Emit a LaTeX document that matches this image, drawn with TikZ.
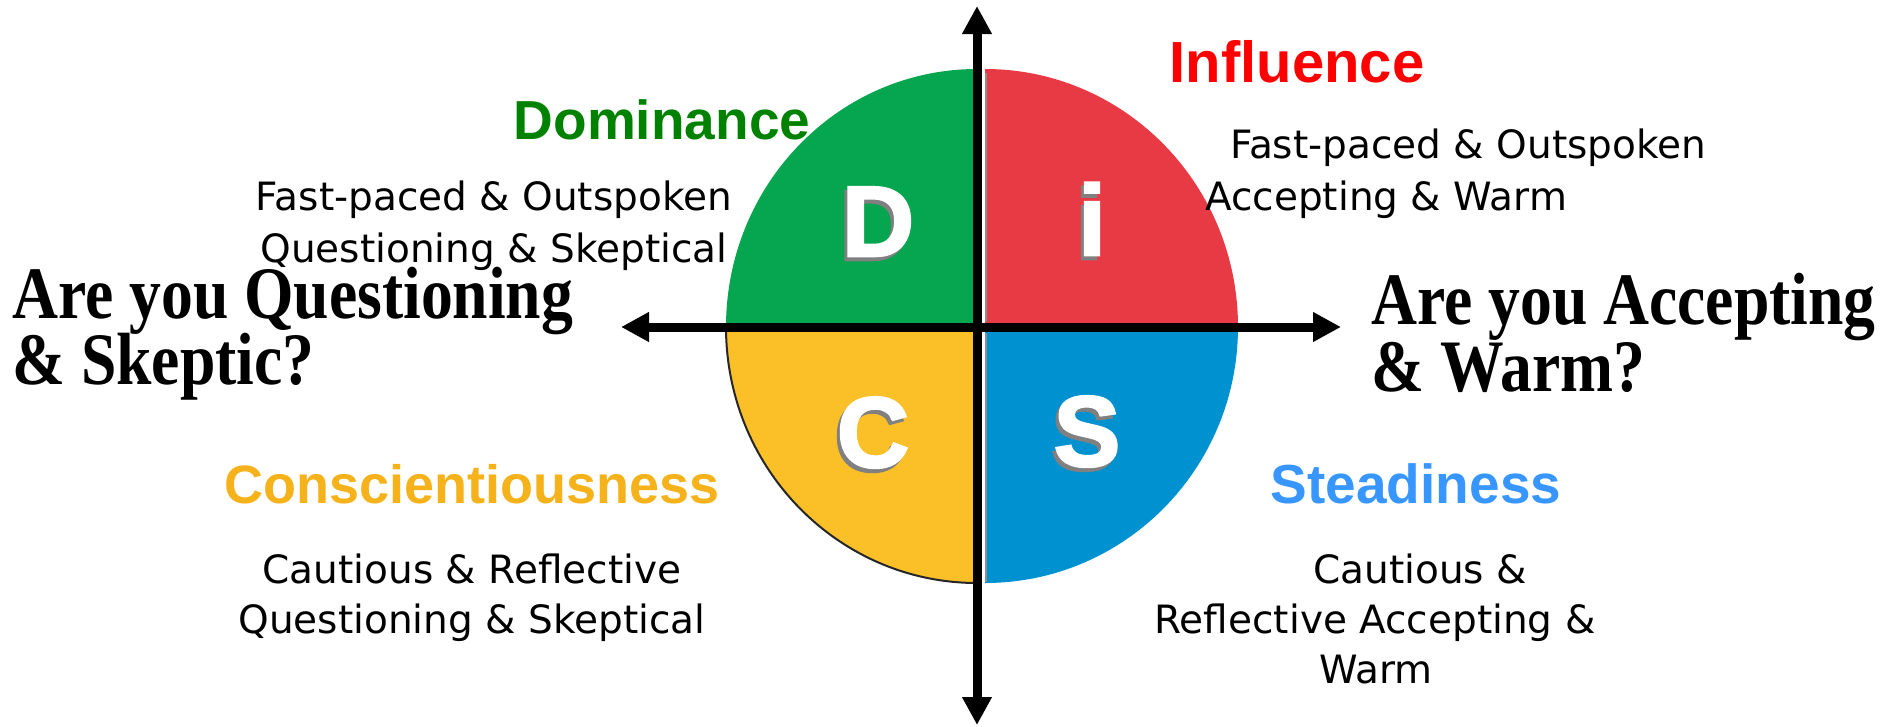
\documentclass[tikz,border=0pt]{standalone}
\usepackage{fontspec}
\setmainfont{DejaVu Sans}
\newfontfamily\headfont{Liberation Sans}
\newfontfamily\letterfont{Liberation Sans}[BoldFeatures={FakeBold=2.5}]
\newfontfamily\bigserif{Liberation Serif}[FakeStretch=0.86]
\usetikzlibrary{arrows.meta}

% quadrant colours
\definecolor{qgreen}{RGB}{6,165,80}
\definecolor{qred}{RGB}{232,58,69}
\definecolor{qyellow}{RGB}{251,192,40}
\definecolor{qblue}{RGB}{0,146,208}
% heading colours
\definecolor{hgreen}{RGB}{0,130,0}
\definecolor{hred}{RGB}{255,0,0}
\definecolor{hyellow}{RGB}{246,178,26}
\definecolor{hblue}{RGB}{55,150,255}

\tikzset{
  axis/.style={line width=9pt, {Triangle[length=28pt,width=28pt]}-{Triangle[length=28pt,width=28pt]}},
  letter/.style={inner sep=0pt, anchor=base, text=white, font=\letterfont\bfseries\fontsize{100}{100}\selectfont},
  lettershadow/.style={letter, text=black!50},
  heading/.style={inner sep=0pt, anchor=base, font=\headfont\bfseries\fontsize{55}{60}\selectfont},
  body/.style={inner sep=0pt, anchor=base, font=\fontsize{39}{47}\selectfont},
  question/.style={inner sep=0pt, anchor=base west, font=\bigserif\bfseries\fontsize{74}{78}\selectfont}
}

\begin{document}
\begin{tikzpicture}[x=1pt,y=-1pt]
\useasboundingbox (0,0) rectangle (1888,726);

% four quadrants of the DISC circle
\fill[qgreen]  (977,327) -- (726,327) arc[start angle=180, end angle=270, x radius=251, y radius=258] -- cycle;
\fill[qred]    (985,327) -- (985,69) arc[start angle=270, end angle=360, x radius=253, y radius=258] -- cycle;
\fill[qyellow] (977,327) -- (726,327) arc[start angle=180, end angle=90, x radius=251, y radius=256] -- cycle;
\fill[qblue]   (985,327) -- (1238,327) arc[start angle=0, end angle=90, x radius=253, y radius=256] -- cycle;
% dark rims
\draw[black!85, line width=2pt] (726,327) arc[start angle=180, end angle=90, x radius=251, y radius=256];
\draw[black!45, line width=2pt] (986,73) -- (986,322);
\draw[black!45, line width=2pt] (986,333) -- (986,582);

% quadrant letters
\node[lettershadow] at (875,260) {D};
\node[letter] (letD) at (878,256) {D};
\node[lettershadow] at (1089,259) {i};
\node[letter] (letI) at (1092,255) {i};
\node[lettershadow] at (870,471) {C};
\node[letter] (letC) at (873,467) {C};
\node[lettershadow] at (1084,470) {S};
\node[letter] (letS) at (1087,466) {S};

% axes
\coordinate (axN) at (977,6);
\coordinate (axS) at (977,725);
\coordinate (axW) at (621,327);
\coordinate (axE) at (1341,327);
\draw[axis] (axS) -- (axN);
\draw[axis] (axW) -- (axE);

% headings
\node[heading, text=hgreen]  (hD) at (662,139) {Dominance};
\node[heading, text=hred, font=\headfont\bfseries\fontsize{58}{60}\selectfont] (hI) at (1297,82) {Influence};
\node[heading, text=hyellow, font=\headfont\bfseries\fontsize{54}{60}\selectfont] (hC) at (472,503) {Conscientiousness};
\node[heading, text=hblue]   (hS) at (1416,503) {Steadiness};

% descriptions
\node[body] (dD1) at (494,210) {Fast-paced \& Outspoken};
\node[body] (dD2) at (494,262) {Questioning \& Skeptical};
\node[body, anchor=base west] (dI1) at (1230,158) {Fast-paced \& Outspoken};
\node[body, anchor=base west] (dI2) at (1205,210) {Accepting \& Warm};
\node[body] (dC1) at (472,583) {Cautious \& Reflective};
\node[body] (dC2) at (472,633) {Questioning \& Skeptical};
\node[body] (dS1) at (1420,583) {Cautious \&};
\node[body] (dS2) at (1375,633) {Reflective Accepting \&};
\node[body] (dS3) at (1376,683) {Warm};

% axis questions
\node[question] (qL1) at (12,318) {Are you Questioning};
\node[question] (qL2) at (12,384) {\& Skeptic?};
\node[question] (qR1) at (1371,324) {Are you Accepting};
\node[question] (qR2) at (1371,391) {\& Warm?};
\end{tikzpicture}
\end{document}
